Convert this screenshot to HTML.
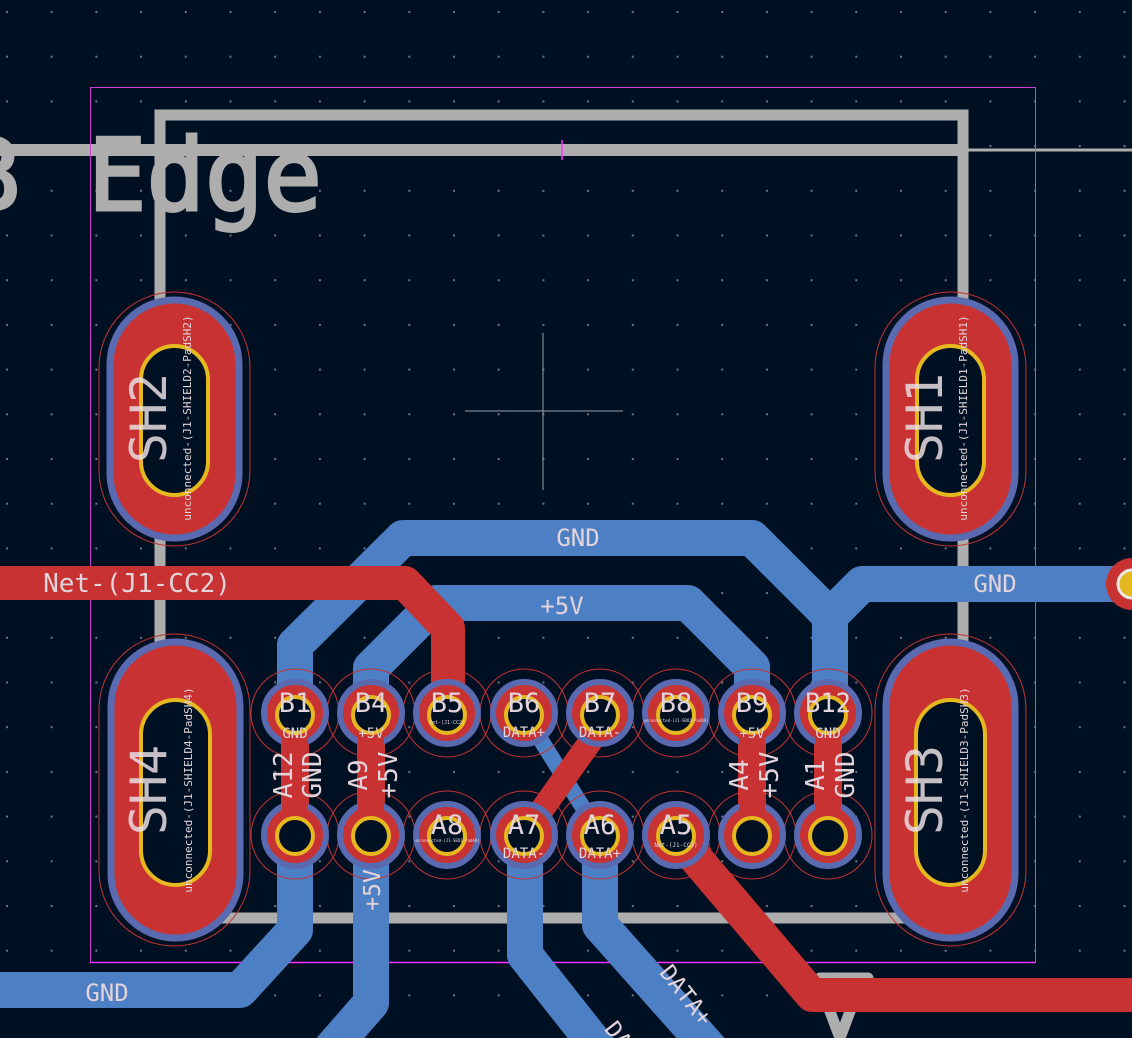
<!DOCTYPE html>
<html><head><meta charset="utf-8"><style>
html,body{margin:0;padding:0;background:#001023;}
svg{display:block}
text{font-family:"DejaVu Sans Mono","Liberation Mono",monospace;}
</style></head><body>
<svg width="1132" height="1038" viewBox="0 0 1132 1038" xmlns="http://www.w3.org/2000/svg">
<defs>
<pattern id="g" x="6" y="11" width="44.7" height="44.7" patternUnits="userSpaceOnUse">
<rect x="0" y="0" width="2" height="2" fill="#6a7488"/>
</pattern>
</defs>
<rect width="1132" height="1038" fill="#001023"/>
<rect width="1132" height="1038" fill="url(#g)"/>

<g stroke="#adadad" fill="none" stroke-linecap="round">
<path d="M160 918 V115 H963 V918 H140" stroke-width="11"/>
<path d="M0 150 H963" stroke-width="12"/>
<path d="M963 150 H1132" stroke-width="3"/>
<path d="M820 985 L840 1038 M860 985 L840 1038 M820 978 H868" stroke-width="11"/>
</g>
<text x="88" y="210" font-size="100" fill="#adadad" textLength="234" lengthAdjust="spacingAndGlyphs" stroke="#adadad" stroke-width="3">Edge</text>
<text x="-40" y="210" font-size="100" fill="#adadad" stroke="#adadad" stroke-width="3">B</text>

<rect x="90.5" y="87.5" width="945" height="875" fill="none" stroke="#d040d0" stroke-width="1"/>
<path d="M90 962.5 H1035" stroke="#ff30ff" stroke-width="1.5"/>
<path d="M562 140 V160" stroke="#ff30ff" stroke-width="1.5"/>
<path d="M465 411 H623 M543 333 V490" stroke="#9aa0aa" stroke-width="1"/>

<g stroke="#4d7fc4" fill="none" stroke-width="36" stroke-linejoin="round" stroke-linecap="round">
<path d="M295 713 V645 L403 538 H752 L830 616 V713"/>
<path d="M830 616 L862 584 H1132"/>
<path d="M371 713 V668 L436 603 H688 L752 667 V713"/>
<path d="M295 835 V930 L240 990 H-20"/>
<path d="M371 835 V1003 L330 1050"/>
<path d="M525 835 V955 L600 1050"/>
<path d="M600 835 V925 L720 1060"/>
</g>
<path d="M524 713 L600 835" stroke="#4d7fc4" stroke-width="16"/>

<g stroke="#c83232" fill="none" stroke-linejoin="round">
<path d="M-20 583 H405 L448 628 V713" stroke-width="34"/>
<path d="M600 728 L524 835" stroke-width="24"/>
<path d="M676 835 L812 995 H1132" stroke-width="34"/>
<path d="M295 713 V835 M371 713 V835 M752 713 V835 M828 713 V835" stroke-width="28"/>
</g>

<g>
<rect x="99" y="292" width="151" height="254" rx="75.5" fill="none" stroke="#c83232" stroke-width="1"/>
<rect x="110" y="300" width="129" height="238" rx="64.5" fill="#c83232" stroke="#5a6ab0" stroke-width="7"/>
<rect x="141" y="346" width="67" height="149" rx="33.5" fill="#001023" stroke="#e6b820" stroke-width="4"/>
<rect x="875" y="292" width="151" height="254" rx="75.5" fill="none" stroke="#c83232" stroke-width="1"/>
<rect x="886" y="300" width="129" height="238" rx="64.5" fill="#c83232" stroke="#5a6ab0" stroke-width="7"/>
<rect x="917" y="346" width="67" height="149" rx="33.5" fill="#001023" stroke="#e6b820" stroke-width="4"/>
<rect x="99" y="634" width="151" height="312" rx="75.5" fill="none" stroke="#c83232" stroke-width="1"/>
<rect x="111" y="642" width="129" height="296" rx="64.5" fill="#c83232" stroke="#5a6ab0" stroke-width="7"/>
<rect x="141" y="700" width="69" height="185" rx="34.5" fill="#001023" stroke="#e6b820" stroke-width="4"/>
<rect x="875" y="634" width="151" height="312" rx="75.5" fill="none" stroke="#c83232" stroke-width="1"/>
<rect x="886" y="642" width="129" height="296" rx="64.5" fill="#c83232" stroke="#5a6ab0" stroke-width="7"/>
<rect x="916" y="700" width="69" height="185" rx="34.5" fill="#001023" stroke="#e6b820" stroke-width="4"/>
</g>

<circle cx="1132" cy="584" r="26" fill="#c83232"/>
<circle cx="1132" cy="584" r="14" fill="#e6b820" stroke="#e8e8e8" stroke-width="3"/>

<g>
<g fill="none" stroke="#c83232" stroke-width="1">
<circle cx="295" cy="713" r="44"/><circle cx="371" cy="713" r="44"/><circle cx="447" cy="713" r="44"/><circle cx="524" cy="713" r="44"/><circle cx="600" cy="713" r="44"/><circle cx="676" cy="713" r="44"/><circle cx="752" cy="713" r="44"/><circle cx="828" cy="713" r="44"/>
<circle cx="295" cy="835" r="44"/><circle cx="371" cy="835" r="44"/><circle cx="447" cy="835" r="44"/><circle cx="524" cy="835" r="44"/><circle cx="600" cy="835" r="44"/><circle cx="676" cy="835" r="44"/><circle cx="752" cy="835" r="44"/><circle cx="828" cy="835" r="44"/>
</g>
<g fill="#c83232" stroke="#5a6ab0" stroke-width="6">
<circle cx="295" cy="713" r="31"/><circle cx="371" cy="713" r="31"/><circle cx="447" cy="713" r="31"/><circle cx="524" cy="713" r="31"/><circle cx="600" cy="713" r="31"/><circle cx="676" cy="713" r="31"/><circle cx="752" cy="713" r="31"/><circle cx="828" cy="713" r="31"/>
<circle cx="295" cy="835" r="31"/><circle cx="371" cy="835" r="31"/><circle cx="447" cy="835" r="31"/><circle cx="524" cy="835" r="31"/><circle cx="600" cy="835" r="31"/><circle cx="676" cy="835" r="31"/><circle cx="752" cy="835" r="31"/><circle cx="828" cy="835" r="31"/>
</g>
<path d="M295 713 V835 M371 713 V835 M752 713 V835 M828 713 V835" stroke="#c83232" stroke-width="26"/>
<g fill="#001023" stroke="#e6b820" stroke-width="4">
<circle cx="295" cy="715" r="18"/><circle cx="371" cy="715" r="18"/><circle cx="447" cy="715" r="18"/><circle cx="524" cy="715" r="18"/><circle cx="600" cy="715" r="18"/><circle cx="676" cy="715" r="18"/><circle cx="752" cy="715" r="18"/><circle cx="828" cy="715" r="18"/>
<circle cx="295" cy="836" r="18"/><circle cx="371" cy="836" r="18"/><circle cx="447" cy="836" r="18"/><circle cx="524" cy="836" r="18"/><circle cx="600" cy="836" r="18"/><circle cx="676" cy="836" r="18"/><circle cx="752" cy="836" r="18"/><circle cx="828" cy="836" r="18"/>
</g>
</g>

<g fill="#e2d4da" text-anchor="middle">
<g font-size="27">
<text x="295" y="712">B1</text><text x="371" y="712">B4</text><text x="447" y="712">B5</text><text x="524" y="712">B6</text><text x="600" y="712">B7</text><text x="676" y="712">B8</text><text x="752" y="712">B9</text><text x="828" y="712" textLength="46" lengthAdjust="spacingAndGlyphs">B12</text>
<text x="447" y="834">A8</text><text x="524" y="834">A7</text><text x="600" y="834">A6</text><text x="676" y="834">A5</text>
</g>
<text x="295" y="738" font-size="14">GND</text><text x="371" y="738" font-size="14">+5V</text><text x="447" y="724" font-size="5">Net-(J1-CC2)</text><text x="524" y="737" font-size="14">DATA+</text><text x="600" y="737" font-size="14">DATA-</text><text x="676" y="722" font-size="4">unconnected-(J1-SBU2-PadB8)</text><text x="752" y="738" font-size="14">+5V</text><text x="828" y="738" font-size="14">GND</text>
<text x="447" y="842" font-size="4">unconnected-(J1-SBU1-PadA8)</text><text x="524" y="858" font-size="14">DATA-</text><text x="600" y="858" font-size="14">DATA+</text><text x="676" y="847" font-size="6">Net-(J1-CC1)</text>
<g font-size="26">
<text transform="translate(292,775) rotate(-90)">A12</text>
<text transform="translate(321,775) rotate(-90)">GND</text>
<text transform="translate(367,775) rotate(-90)">A9</text>
<text transform="translate(397,775) rotate(-90)">+5V</text>
<text transform="translate(748,775) rotate(-90)">A4</text>
<text transform="translate(778,775) rotate(-90)">+5V</text>
<text transform="translate(824,775) rotate(-90)">A1</text>
<text transform="translate(854,775) rotate(-90)">GND</text>
</g>
<text transform="translate(380,890) rotate(-90)" font-size="23">+5V</text>
<text x="578" y="546" font-size="24">GND</text>
<text x="562" y="614" font-size="24">+5V</text>
<text x="995" y="592" font-size="24">GND</text>
<text x="107" y="1001" font-size="24">GND</text>
<text x="137" y="592" font-size="26">Net-(J1-CC2)</text>
<text transform="translate(680,1000) rotate(52)" font-size="23">DATA+</text>
<text transform="translate(612,1040) rotate(52)" font-size="23">DA</text>
</g>
<g fill="#e8dde2" fill-opacity="0.85" text-anchor="middle">
<text transform="translate(166,418) rotate(-90)" font-size="50">SH2</text>
<text transform="translate(942,418) rotate(-90)" font-size="50">SH1</text>
<text transform="translate(166,790) rotate(-90)" font-size="50">SH4</text>
<text transform="translate(942,790) rotate(-90)" font-size="50">SH3</text>
</g>
<g fill="#e2d4da" text-anchor="middle" font-size="11">
<text transform="translate(191,418) rotate(-90)">unconnected-(J1-SHIELD2-PadSH2)</text>
<text transform="translate(967,418) rotate(-90)">unconnected-(J1-SHIELD1-PadSH1)</text>
<text transform="translate(192,790) rotate(-90)">unconnected-(J1-SHIELD4-PadSH4)</text>
<text transform="translate(968,790) rotate(-90)">unconnected-(J1-SHIELD3-PadSH3)</text>
</g>
</svg>
</body></html>
